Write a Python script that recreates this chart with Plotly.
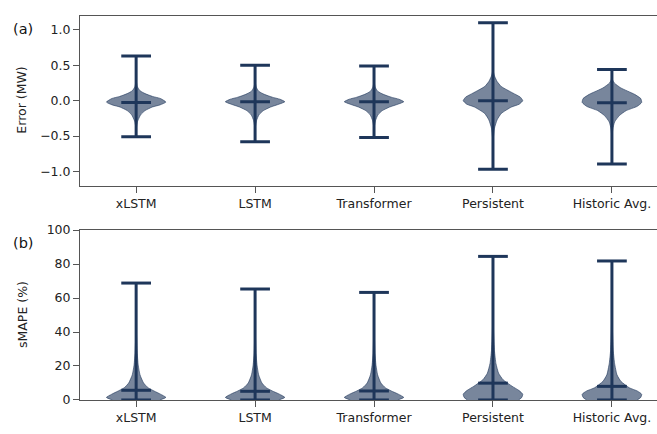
import plotly.graph_objects as go

models = ["xLSTM", "LSTM", "Transformer", "Persistent", "Historic Avg."]

# Panel (a): error (MW)
err_min = [-0.51, -0.58, -0.52, -0.97, -0.895]
err_max = [0.63, 0.50, 0.49, 1.10, 0.44]
err_med = [-0.025, -0.015, -0.015, 0.0, -0.03]

# violin outline profiles: (value levels, relative half-width)
err_levels = [
    [0.63, 0.30, 0.20, 0.14, 0.10, 0.06, 0.03, -0.02, -0.06, -0.09, -0.14, -0.20, -0.29, -0.38, -0.51],
    [0.50, 0.28, 0.19, 0.13, 0.09, 0.05, 0.02, -0.015, -0.05, -0.09, -0.14, -0.20, -0.28, -0.38, -0.58],
    [0.49, 0.28, 0.19, 0.13, 0.09, 0.05, 0.02, -0.015, -0.05, -0.09, -0.14, -0.20, -0.28, -0.37, -0.52],
    [1.10, 0.50, 0.40, 0.34, 0.27, 0.20, 0.11, 0.05, 0.0, -0.05, -0.09, -0.18, -0.27, -0.39, -0.55, -0.97],
    [0.44, 0.30, 0.25, 0.18, 0.09, 0.03, -0.025, -0.08, -0.14, -0.21, -0.30, -0.40, -0.55, -0.895],
]
err_widths = [
    [0.0, 0.0, 0.04, 0.13, 0.3, 0.55, 0.82, 1.0, 0.8, 0.54, 0.3, 0.15, 0.05, 0.01, 0.0],
    [0.0, 0.0, 0.04, 0.13, 0.31, 0.57, 0.84, 1.0, 0.8, 0.52, 0.28, 0.13, 0.05, 0.01, 0.0],
    [0.0, 0.0, 0.04, 0.13, 0.31, 0.57, 0.84, 1.0, 0.8, 0.52, 0.28, 0.13, 0.05, 0.01, 0.0],
    [0.0, 0.0, 0.02, 0.06, 0.14, 0.28, 0.66, 0.92, 1.0, 0.88, 0.62, 0.28, 0.14, 0.05, 0.01, 0.0],
    [0.0, 0.02, 0.08, 0.3, 0.76, 0.97, 1.0, 0.85, 0.48, 0.25, 0.09, 0.03, 0.0, 0.0],
]

# Panel (b): sMAPE (%)
sm_min = [0, 0, 0, 0, 0]
sm_max = [68.8, 65.3, 63.3, 84.5, 81.8]
sm_med = [5.7, 5.1, 5.3, 9.9, 8.0]

sm_levels = [
    [0, 1.5, 3.4, 5.3, 7.2, 10, 14.8, 20.5, 28, 40, 55, 68.8],
    [0, 1.5, 3.4, 5.3, 7.2, 10, 14.8, 20.5, 28, 40, 55, 65.3],
    [0, 1.5, 3.4, 5.3, 7.2, 10, 14.8, 20.5, 28, 40, 55, 63.3],
    [0, 1.5, 3.4, 5.5, 8.1, 11.9, 15.7, 21.4, 29, 40, 60, 84.5],
    [0, 1.5, 3.4, 5.3, 7.2, 11, 14.8, 21.4, 29, 40, 60, 81.8],
]
sm_widths = [
    [0.8, 1.0, 0.82, 0.6, 0.4, 0.25, 0.13, 0.07, 0.035, 0.01, 0.0, 0.0],
    [0.8, 1.0, 0.82, 0.58, 0.38, 0.23, 0.12, 0.065, 0.03, 0.01, 0.0, 0.0],
    [0.8, 1.0, 0.82, 0.58, 0.38, 0.23, 0.12, 0.065, 0.03, 0.01, 0.0, 0.0],
    [0.86, 0.97, 1.0, 0.88, 0.64, 0.34, 0.19, 0.1, 0.05, 0.02, 0.0, 0.0],
    [0.85, 0.97, 1.0, 0.85, 0.58, 0.3, 0.17, 0.09, 0.045, 0.02, 0.0, 0.0],
]

LINE = "rgb(30,54,90)"
FILL = "rgba(30,54,90,0.6)"
HALF = 0.25   # violin half width (x units)
CAP = 0.125   # cap half width

fig = go.Figure()

def add_panel(xa, ya, levels, widths, vmin, vmax, vmed):
    for i in range(len(models)):
        pos = i + 1
        lv = levels[i]
        wd = widths[i]
        xs = [pos + w * HALF for w in wd] + [pos - w * HALF for w in wd[::-1]]
        ys = lv + lv[::-1]
        fig.add_trace(go.Scatter(x=xs, y=ys, fill="toself", fillcolor=FILL,
                                 mode="lines", line=dict(color=FILL, width=1, shape="spline", smoothing=0.5),
                                 xaxis=xa, yaxis=ya, showlegend=False, hoverinfo="skip"))
        fig.add_trace(go.Scatter(x=[pos, pos], y=[vmin[i], vmax[i]], mode="lines",
                                 line=dict(color=LINE, width=3), xaxis=xa, yaxis=ya,
                                 showlegend=False, hoverinfo="skip"))
        for v in (vmin[i], vmax[i], vmed[i]):
            fig.add_trace(go.Scatter(x=[pos - CAP, pos + CAP], y=[v, v], mode="lines",
                                     line=dict(color=LINE, width=3), xaxis=xa, yaxis=ya,
                                     showlegend=False, hoverinfo="skip"))

add_panel("x", "y", err_levels, err_widths, err_min, err_max, err_med)
add_panel("x2", "y2", sm_levels, sm_widths, sm_min, sm_max, sm_med)

W, H = 657, 434
FONT = dict(family="DejaVu Sans", size=12.5, color="#222")
xcommon = dict(range=[0.528, 5.379], tickmode="array", tickvals=[1, 2, 3, 4, 5], ticktext=models,
               showgrid=False, zeroline=False, showline=True, linecolor="#555", linewidth=1,
               mirror=True, ticks="outside", ticklen=6, tickcolor="#555", tickfont=FONT,
               domain=[80 / W, 1.0])
ycommon = dict(showgrid=False, zeroline=False, showline=True, linecolor="#555", linewidth=1,
               mirror=False, ticks="outside", ticklen=6, tickcolor="#555", tickfont=FONT)

fig.update_layout(
    width=W, height=H, margin=dict(l=0, r=0, t=0, b=0),
    paper_bgcolor="white", plot_bgcolor="white", font=FONT,
    xaxis=dict(**xcommon, anchor="y"),
    yaxis=dict(**ycommon, range=[-1.2, 1.2], tickvals=[-1.0, -0.5, 0.0, 0.5, 1.0],
               tickformat=".1f", domain=[(H - 184) / H, (H - 8) / H], anchor="x"),
    xaxis2=dict(**xcommon, anchor="y2"),
    yaxis2=dict(**ycommon, range=[0, 100], tickvals=[0, 20, 40, 60, 80, 100],
                domain=[(H - 406) / H, (H - 230) / H], anchor="x2"),
    annotations=[
        dict(text="Error (MW)", xref="paper", yref="paper", x=22 / W, y=(H - 96) / H,
             textangle=-90, showarrow=False, xanchor="center", yanchor="middle", font=FONT),
        dict(text="sMAPE (%)", xref="paper", yref="paper", x=22 / W, y=(H - 318) / H,
             textangle=-90, showarrow=False, xanchor="center", yanchor="middle", font=FONT),
        dict(text="(a)", xref="paper", yref="paper", x=23 / W, y=(H - 22) / H, showarrow=False,
             xanchor="center", yanchor="middle", font=dict(family="DejaVu Sans", size=14.5, color="#111")),
        dict(text="(b)", xref="paper", yref="paper", x=23 / W, y=(H - 243) / H, showarrow=False,
             xanchor="center", yanchor="middle", font=dict(family="DejaVu Sans", size=14.5, color="#111")),
    ],
)

fig.write_html("out.html", config={"displayModeBar": False},
               post_script="document.body.style.margin='0px';document.body.style.overflow='hidden';")
